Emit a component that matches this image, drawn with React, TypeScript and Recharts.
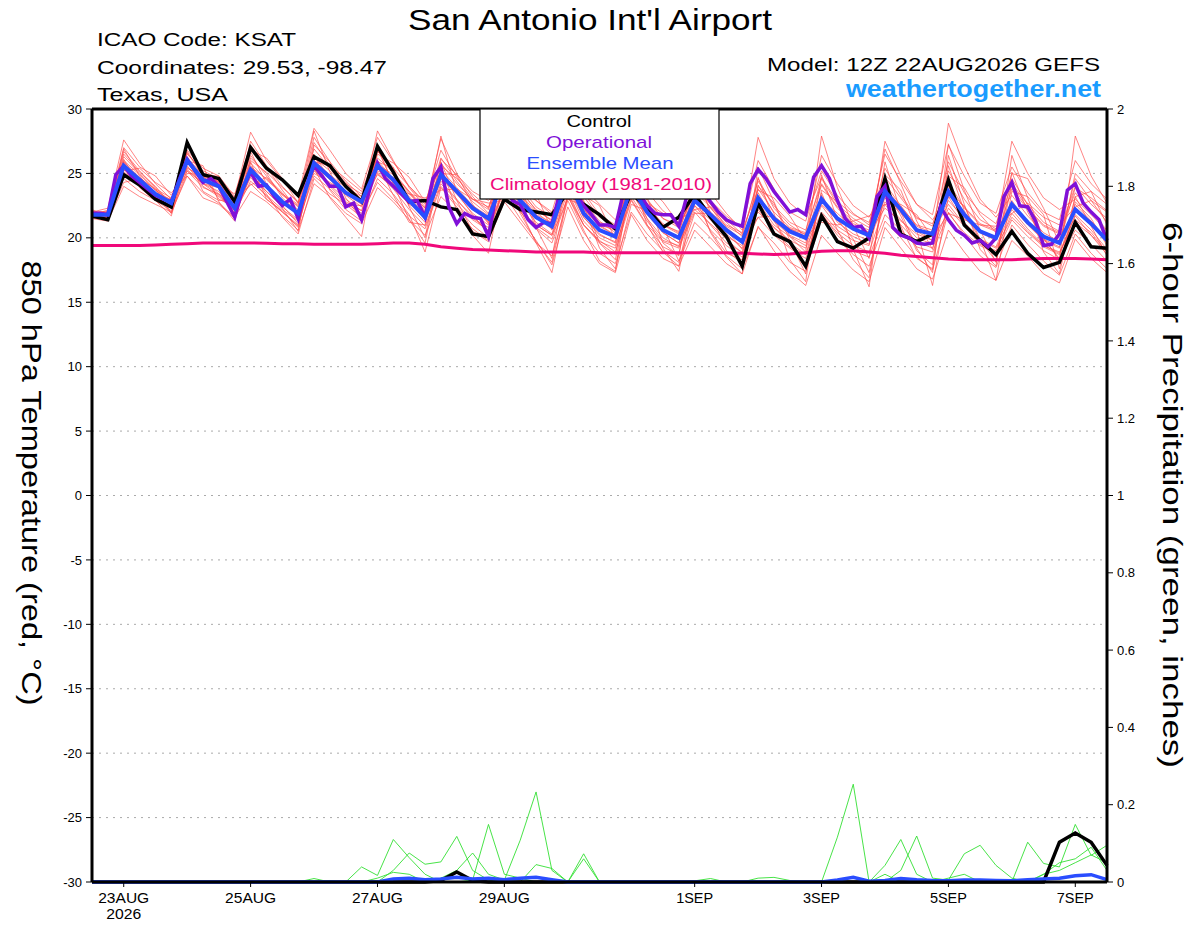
import React from "react";
import { LineChart, Line, XAxis, YAxis, CartesianGrid, ReferenceLine } from "recharts";

const FONT = "'Liberation Sans', Arial, Helvetica, sans-serif";

// 850 hPa temperature, every 6 h from 12Z 22AUG2026 (65 steps)
const ctrlTemp = [
  21.7, 21.4,
  24.9, 24.1, 23.0, 22.4, 27.4, 24.9, 24.6, 22.8, 27.0, 25.4, 24.5, 23.3, 26.3, 25.6, 24.0, 22.8,
  27.1, 25.1, 22.8, 22.9, 22.4, 22.2, 20.3, 20.1, 23.0, 22.2, 22.0, 21.8, 23.6, 22.6, 21.8, 20.7,
  23.5, 22.3, 20.8, 21.6, 23.4, 21.6, 20.1, 17.8, 22.7, 20.3, 19.7, 17.8, 21.7, 19.7, 19.2, 20.0,
  24.6, 20.3, 19.7, 20.3, 24.5, 21.0, 19.8, 18.7, 20.5, 18.8, 17.7, 18.1, 21.2, 19.3, 19.2,
];

const meanTemp = [
  21.8, 21.8,
  25.6, 24.5, 23.4, 22.7, 26.0, 24.5, 24.0, 22.3, 25.3, 24.0, 22.8, 21.9, 25.8, 24.7, 23.5, 22.8,
  25.6, 24.5, 22.9, 21.6, 24.9, 23.6, 22.3, 21.5, 24.8, 22.9, 21.6, 20.9, 24.6, 21.9, 20.6, 20.1,
  24.0, 22.0, 20.6, 20.0, 22.9, 21.8, 20.6, 19.7, 23.1, 21.5, 20.5, 20.0, 23.0, 21.5, 20.7, 20.2,
  23.6, 22.2, 20.6, 20.3, 23.6, 21.8, 20.5, 20.0, 22.6, 21.2, 20.1, 19.6, 22.2, 21.1, 19.8,
];

const climTemp = [
  19.4, 19.4,
  19.4, 19.4, 19.45, 19.5, 19.55, 19.6, 19.6, 19.6, 19.6, 19.58, 19.55, 19.55, 19.5, 19.5, 19.5, 19.5,
  19.55, 19.6, 19.6, 19.5, 19.3, 19.2, 19.1, 19.05, 19.0, 18.95, 18.9, 18.9, 18.9, 18.9, 18.85, 18.85,
  18.85, 18.85, 18.85, 18.85, 18.85, 18.85, 18.85, 18.8, 18.75, 18.7, 18.75, 18.85, 18.95, 19.0, 19.0, 18.9,
  18.8, 18.65, 18.55, 18.45, 18.35, 18.3, 18.3, 18.3, 18.3, 18.35, 18.4, 18.4, 18.4, 18.35, 18.3,
];

// operational run, every 3 h
const opTemp = [
  21.9, 21.9, 21.8, 24.9, 25.6, 24.8, 24.3, 23.8,
  23.3, 23.0, 22.8, 24.5, 26.1, 25.2, 24.3, 24.6,
  24.0, 22.8, 21.6, 23.8, 25.1, 24.0, 24.1, 23.2,
  22.5, 23.0, 21.5, 24.0, 25.6, 24.8, 24.0, 24.0,
  22.4, 22.7, 21.4, 23.7, 25.8, 24.6, 24.0, 23.4,
  22.8, 22.9, 21.6, 24.6, 25.5, 22.4, 21.1, 21.9,
  21.6, 21.5, 20.1, 23.5, 24.5, 22.9, 22.6, 21.4,
  20.8, 21.2, 21.1, 23.5, 24.5, 23.5, 22.5, 21.8,
  21.0, 21.0, 20.8, 23.5, 24.5, 23.5, 22.5, 21.9,
  21.8, 21.8, 20.9, 23.2, 24.6, 23.6, 22.8, 22.0,
  21.4, 21.1, 20.9, 24.2, 25.3, 24.6, 23.6, 22.8,
  22.0, 22.2, 21.8, 24.7, 25.6, 24.6, 22.9, 21.5,
  20.8, 20.9, 20.0, 23.2, 24.0, 20.8, 20.2, 20.0,
  19.6, 19.5, 19.6, 22.4, 21.4, 20.6, 20.2, 19.6,
  19.8, 19.3, 20.0, 23.2, 24.3, 22.5, 22.4, 21.3,
  19.4, 19.5, 20.3, 23.7, 24.2, 22.7, 22.0, 21.4,
  19.8,
];

// ensemble members (thin red)
const member01 = [
  22.0, 22.3,
  27.6, 25.8, 24.2, 23.0, 26.5, 25.2, 24.6, 23.1, 28.2, 26.0, 24.5, 23.2, 28.5, 26.8, 25.0, 23.8,
  27.8, 25.9, 24.0, 22.6, 26.8, 24.7, 23.0, 22.2, 27.0, 24.5, 22.9, 22.0, 26.2, 23.5, 21.8, 21.0,
  25.8, 23.6, 22.1, 21.2, 24.8, 22.9, 21.7, 20.8, 26.0, 23.8, 22.0, 21.3, 25.2, 23.3, 21.9, 21.0,
  26.5, 24.4, 22.6, 21.8, 27.2, 24.8, 22.7, 21.9, 25.5, 23.5, 22.0, 21.4, 26.0, 24.2, 23.0,
];
const member02 = [
  21.5, 21.3,
  24.0, 23.2, 22.6, 22.0, 24.8, 23.5, 22.7, 21.6, 23.6, 22.8, 21.7, 20.6, 24.2, 23.2, 21.9, 21.1,
  23.9, 22.8, 21.4, 20.2, 23.2, 22.0, 20.7, 19.8, 22.8, 21.2, 19.6, 18.6, 22.9, 20.4, 18.8, 18.0,
  22.0, 20.3, 19.0, 18.1, 21.2, 20.0, 18.6, 17.6, 20.8, 19.6, 18.1, 17.4, 21.5, 19.9, 18.7, 17.8,
  21.3, 20.0, 18.5, 17.5, 22.0, 20.2, 18.6, 17.7, 21.0, 19.5, 18.2, 17.1, 20.3, 18.8, 17.6,
];
const member03 = [
  22.1, 21.9,
  26.3, 25.0, 23.8, 23.1, 25.4, 24.8, 24.4, 22.9, 26.0, 25.1, 23.9, 22.8, 26.9, 25.4, 24.2, 23.4,
  26.2, 25.1, 23.6, 22.3, 25.8, 24.2, 23.0, 22.4, 25.6, 23.8, 22.1, 21.4, 25.4, 22.8, 21.3, 20.4,
  24.8, 22.6, 21.0, 20.5, 23.9, 22.6, 21.4, 20.3, 24.4, 22.5, 21.2, 20.6, 24.2, 22.4, 21.3, 20.4,
  23.4, 22.0, 20.5, 19.8, 25.2, 23.0, 21.4, 20.7, 24.1, 22.3, 21.0, 20.4, 23.5, 22.0, 20.6,
];
const member04 = [
  21.7, 21.6,
  25.0, 24.0, 23.0, 22.3, 26.8, 25.4, 24.8, 22.0, 24.7, 23.2, 22.0, 21.0, 25.2, 24.1, 23.0, 22.1,
  25.0, 23.8, 22.2, 20.9, 24.2, 22.9, 21.7, 20.4, 24.0, 22.4, 20.8, 19.9, 23.6, 21.0, 19.7, 19.2,
  23.2, 21.3, 19.8, 19.4, 22.2, 21.1, 19.9, 18.8, 22.4, 20.8, 19.8, 19.2, 22.0, 20.6, 19.8, 19.4,
  24.2, 22.5, 20.9, 20.4, 22.6, 21.0, 19.8, 19.2, 21.6, 20.4, 19.3, 18.7, 21.8, 20.6, 19.1,
];
const member05 = [
  21.9, 22.1,
  26.7, 25.2, 23.9, 22.5, 25.8, 25.0, 24.2, 23.4, 27.2, 25.5, 23.7, 22.1, 27.4, 25.6, 24.6, 23.6,
  26.8, 25.0, 23.5, 22.0, 26.2, 24.4, 22.8, 21.8, 26.3, 23.6, 22.2, 21.3, 25.9, 22.6, 21.0, 20.2,
  25.2, 22.9, 21.5, 20.8, 23.6, 22.4, 21.2, 20.1, 24.6, 22.3, 21.0, 20.2, 24.6, 22.6, 21.5, 20.8,
  25.4, 23.3, 21.6, 20.9, 25.9, 23.5, 22.0, 21.1, 24.6, 22.6, 21.2, 20.5, 24.0, 22.6, 21.5,
];
const member06 = [
  21.6, 21.5,
  25.3, 24.2, 23.2, 22.4, 26.3, 24.2, 23.6, 21.8, 25.0, 23.6, 22.4, 21.4, 26.4, 24.6, 23.3, 22.4,
  25.4, 24.3, 22.5, 21.2, 24.6, 23.4, 21.9, 21.0, 25.0, 22.8, 21.2, 20.3, 24.4, 21.6, 20.2, 19.7,
  24.5, 22.2, 20.4, 19.6, 23.0, 21.6, 20.3, 19.2, 23.5, 21.3, 20.2, 19.6, 23.3, 21.2, 20.3, 19.8,
  22.8, 21.4, 20.0, 19.5, 24.0, 21.8, 20.4, 19.8, 22.9, 21.1, 19.9, 19.3, 22.6, 21.3, 19.9,
];
const member07 = [
  21.8, 21.7,
  24.6, 23.6, 22.9, 22.1, 25.2, 23.9, 23.4, 21.9, 24.4, 23.3, 22.2, 21.3, 24.8, 23.8, 22.6, 21.6,
  24.6, 23.4, 21.8, 18.9, 23.9, 22.4, 21.0, 20.0, 23.4, 21.5, 19.8, 17.9, 22.4, 19.8, 18.0, 17.3,
  21.8, 19.8, 18.4, 17.8, 20.6, 19.3, 18.0, 17.2, 20.9, 19.0, 17.4, 16.3, 20.2, 18.8, 17.5, 16.6,
  20.8, 19.2, 17.6, 16.8, 20.6, 18.9, 17.4, 16.7, 19.8, 18.6, 17.2, 16.5, 19.9, 18.4, 17.3,
];
const member08 = [
  21.9, 22.0,
  26.0, 24.9, 23.7, 22.9, 25.9, 24.7, 23.9, 22.5, 26.4, 24.8, 23.3, 22.5, 27.8, 25.9, 24.4, 23.2,
  26.0, 24.6, 23.2, 21.8, 25.3, 23.9, 22.5, 21.7, 26.6, 24.0, 22.4, 21.6, 25.0, 22.3, 21.0, 20.6,
  24.6, 22.4, 21.1, 20.4, 24.3, 22.3, 21.0, 20.4, 27.8, 24.6, 22.7, 21.7, 24.7, 22.8, 21.8, 21.2,
  24.7, 23.1, 21.5, 21.1, 23.8, 22.4, 21.1, 20.6, 27.5, 25.0, 23.1, 22.2, 23.0, 21.8, 20.5,
];
const member09 = [
  21.6, 21.7,
  25.8, 24.4, 23.0, 22.3, 25.6, 24.0, 23.2, 22.1, 25.6, 24.1, 22.9, 21.8, 25.7, 24.5, 23.4, 22.6,
  28.3, 26.0, 23.9, 22.4, 27.7, 25.0, 23.2, 21.9, 24.4, 22.6, 21.5, 20.7, 24.0, 21.6, 20.3, 19.6,
  23.6, 21.5, 20.0, 19.3, 22.5, 21.4, 20.1, 19.4, 22.8, 21.0, 20.1, 19.4, 22.5, 20.9, 20.1, 19.5,
  27.5, 24.8, 22.6, 21.4, 23.2, 21.2, 19.9, 19.3, 22.2, 20.7, 19.4, 18.9, 21.2, 20.2, 18.9,
];
const member10 = [
  22.0, 21.9,
  25.1, 24.3, 23.4, 23.0, 26.6, 25.0, 24.3, 22.6, 25.8, 24.5, 23.4, 22.4, 25.0, 24.3, 23.6, 23.0,
  25.2, 24.7, 23.4, 22.3, 25.1, 23.7, 22.5, 21.2, 25.3, 23.4, 22.0, 21.0, 24.8, 22.2, 20.9, 20.2,
  23.5, 21.8, 20.4, 19.6, 22.5, 21.0, 19.6, 18.9, 23.0, 21.6, 20.7, 20.3, 22.6, 21.4, 20.7, 20.4,
  22.3, 21.3, 20.3, 19.8, 28.9, 25.6, 23.0, 21.6, 23.3, 21.7, 20.4, 19.7, 24.6, 22.9, 21.2,
];
const member11 = [
  21.7, 21.9,
  26.5, 25.1, 24.0, 22.6, 26.2, 24.9, 24.3, 21.7, 24.9, 23.6, 22.5, 21.1, 26.0, 24.9, 23.9, 23.2,
  25.7, 24.9, 23.6, 22.1, 24.7, 23.4, 22.2, 21.3, 24.7, 22.9, 21.7, 21.0, 24.9, 22.3, 21.2, 20.8,
  24.4, 22.3, 21.0, 20.3, 23.3, 22.0, 20.9, 20.2, 22.0, 20.8, 19.6, 18.7, 23.0, 21.9, 20.8, 20.1,
  23.1, 21.9, 20.7, 20.3, 22.9, 21.5, 20.4, 19.9, 23.8, 22.2, 20.9, 20.3, 21.4, 20.4, 18.9,
];
const member12 = [
  21.8, 22.0,
  25.9, 24.7, 23.7, 22.7, 25.2, 24.2, 23.9, 22.6, 25.5, 24.6, 23.4, 22.6, 25.3, 24.2, 23.5, 22.9,
  24.9, 24.0, 22.9, 21.4, 24.4, 23.0, 21.5, 20.8, 23.8, 22.0, 20.7, 19.6, 23.2, 21.0, 19.8, 18.9,
  22.9, 20.9, 19.3, 18.7, 24.5, 22.6, 20.8, 19.8, 21.6, 20.2, 19.2, 18.4, 21.9, 20.2, 19.0, 18.5,
  21.8, 20.6, 19.3, 18.9, 21.9, 20.4, 19.4, 18.8, 21.4, 20.1, 19.0, 18.3, 20.6, 19.5, 18.2,
];
const member13 = [
  21.9, 21.8,
  25.6, 24.6, 23.5, 22.8, 26.1, 24.7, 24.4, 22.2, 27.5, 25.6, 24.0, 22.7, 26.2, 25.2, 24.1, 23.0,
  25.9, 25.4, 24.0, 22.8, 25.6, 24.6, 23.4, 22.3, 25.2, 23.3, 21.8, 21.2, 25.6, 23.2, 21.6, 20.9,
  25.0, 23.0, 21.5, 21.0, 23.4, 21.9, 20.5, 19.6, 23.8, 22.0, 20.8, 20.4, 26.4, 24.2, 22.5, 21.6,
  23.9, 22.4, 21.0, 20.6, 24.3, 22.3, 21.0, 20.5, 22.4, 21.0, 19.8, 19.2, 25.0, 23.6, 22.6,
];
const member14 = [
  21.5, 21.6,
  25.4, 24.2, 23.1, 22.5, 25.5, 24.5, 23.4, 22.4, 24.2, 23.0, 22.1, 20.8, 25.6, 24.0, 22.7, 21.9,
  24.3, 23.0, 21.7, 20.7, 24.0, 22.6, 21.4, 20.6, 24.2, 22.1, 21.0, 20.2, 23.9, 21.3, 20.0, 19.4,
  23.0, 21.0, 19.7, 19.2, 22.0, 20.6, 19.4, 18.5, 22.2, 20.5, 19.3, 18.7, 21.8, 20.4, 19.4, 18.9,
  22.6, 21.0, 19.7, 19.2, 22.3, 20.9, 19.5, 19.0, 21.9, 20.5, 19.4, 18.8, 21.7, 20.2, 18.7,
];
const member15 = [
  22.2, 21.6,
  26.9, 24.8, 23.3, 21.9, 25.0, 24.9, 23.0, 22.4, 26.7, 24.2, 22.3, 20.5, 27.2, 25.9, 23.1, 21.4,
  27.0, 24.2, 22.6, 21.9, 27.9, 23.5, 21.8, 20.3, 23.9, 22.2, 19.6, 17.3, 23.3, 20.6, 18.2, 17.4,
  24.9, 21.0, 18.9, 17.8, 23.8, 20.4, 18.5, 17.2, 25.5, 22.8, 20.1, 18.9, 27.9, 23.9, 20.9, 18.4,
  25.9, 22.0, 19.2, 17.3, 26.4, 22.6, 19.1, 17.8, 26.4, 23.1, 20.0, 18.3, 27.9, 24.8, 22.7,
];
const member16 = [
  21.8, 21.5,
  24.3, 24.6, 23.8, 21.9, 26.2, 23.6, 22.9, 23.0, 24.1, 24.7, 23.5, 21.9, 25.4, 23.1, 21.6, 20.1,
  26.7, 25.5, 22.4, 20.0, 26.1, 24.9, 23.6, 22.9, 24.1, 23.9, 21.0, 20.2, 23.0, 22.5, 19.2, 17.6,
  22.6, 22.1, 20.9, 18.2, 21.9, 21.9, 19.0, 18.0, 24.0, 22.7, 19.8, 17.2, 23.7, 22.8, 19.1, 16.2,
  24.9, 23.7, 20.6, 16.3, 23.2, 22.5, 19.9, 16.7, 23.6, 23.2, 21.8, 17.6, 23.2, 23.6, 21.0,
];
const member17 = [
  21.9, 22.1,
  27.0, 25.5, 24.8, 23.3, 25.3, 24.2, 23.3, 22.1, 26.8, 26.2, 24.6, 22.7, 28.3, 25.1, 22.8, 22.1,
  26.5, 25.8, 24.7, 22.8, 25.0, 24.9, 22.6, 21.1, 26.1, 25.1, 23.4, 20.6, 24.4, 23.3, 22.5, 19.9,
  26.2, 24.0, 22.8, 21.1, 25.0, 23.5, 21.9, 20.6, 23.7, 23.1, 21.7, 19.8, 24.1, 22.3, 21.1, 20.6,
  26.9, 24.2, 21.3, 19.1, 24.8, 23.9, 21.8, 20.4, 25.0, 24.6, 22.3, 19.6, 23.9, 23.1, 22.1,
];
const member18 = [
  22.0, 21.9,
  26.1, 24.0, 23.0, 22.6, 26.7, 24.8, 24.8, 23.2, 25.1, 23.4, 21.6, 20.3, 24.6, 23.4, 22.6, 22.5,
  25.8, 23.3, 21.2, 21.0, 25.9, 22.9, 20.5, 19.7, 26.0, 23.5, 20.8, 18.4, 25.3, 22.9, 19.6, 18.3,
  23.8, 23.2, 19.6, 18.6, 25.6, 21.9, 20.1, 18.0, 24.1, 21.9, 18.3, 16.6, 24.9, 21.4, 19.9, 17.3,
  23.6, 20.9, 18.4, 17.6, 25.6, 22.1, 19.8, 18.2, 24.2, 22.6, 18.9, 17.2, 22.8, 21.5, 19.4,
];
const member19 = [
  21.6, 21.8,
  25.2, 25.4, 24.3, 23.5, 24.8, 23.1, 22.6, 21.5, 26.2, 25.0, 23.1, 22.0, 25.9, 25.6, 24.3, 22.9,
  25.1, 23.9, 23.4, 23.1, 23.7, 23.8, 23.0, 22.7, 22.9, 23.6, 22.9, 21.8, 24.0, 23.9, 22.6, 21.4,
  23.3, 22.7, 21.9, 21.4, 22.2, 22.4, 20.6, 19.1, 21.6, 21.7, 20.7, 20.1, 21.2, 21.0, 21.3, 21.7,
  22.6, 22.6, 21.8, 20.0, 21.9, 21.4, 21.0, 20.9, 21.9, 22.7, 21.6, 21.0, 22.4, 22.9, 22.0,
];
const member20 = [
  21.7, 21.6,
  25.9, 23.9, 22.9, 21.7, 26.0, 25.6, 22.8, 21.3, 25.9, 23.0, 22.0, 20.9, 26.5, 23.7, 22.2, 21.3,
  26.9, 24.2, 21.4, 19.6, 25.6, 22.1, 20.2, 18.8, 24.6, 21.9, 19.7, 18.1, 23.4, 21.0, 19.6, 18.7,
  24.2, 21.5, 19.2, 17.4, 23.2, 20.5, 18.8, 18.3, 24.7, 21.3, 19.5, 17.7, 23.5, 20.6, 18.3, 16.9,
  23.9, 21.7, 19.0, 17.9, 27.3, 23.7, 20.6, 18.1, 25.1, 22.0, 19.9, 18.4, 23.2, 20.9, 18.6,
];
const memberTemps = [
  member01, member02, member03, member04, member05, member06, member07,
  member08, member09, member10, member11, member12, member13, member14,
  member15, member16, member17, member18, member19, member20,
];

// 6-hour precipitation (inches)
const green01 = [
  0, 0, 0, 0, 0, 0, 0, 0, 0, 0,
  0, 0, 0, 0, 0.009, 0, 0, 0.039, 0.017, 0.11,
  0.063, 0.02, 0, 0, 0, 0, 0, 0, 0, 0,
  0, 0, 0, 0, 0, 0, 0, 0, 0, 0,
  0, 0, 0, 0, 0, 0, 0, 0.116, 0.253, 0,
  0, 0, 0, 0, 0, 0, 0, 0, 0, 0,
  0, 0, 0, 0, 0,
];
const green02 = [
  0, 0, 0, 0, 0, 0, 0, 0, 0, 0,
  0, 0, 0, 0, 0, 0, 0, 0, 0, 0.03,
  0.075, 0.046, 0.052, 0.118, 0.03, 0.005, 0, 0, 0, 0,
  0, 0, 0, 0, 0, 0, 0, 0, 0, 0,
  0, 0, 0, 0, 0, 0, 0, 0, 0, 0,
  0.043, 0.11, 0.02, 0, 0, 0, 0, 0, 0, 0,
  0, 0, 0, 0, 0,
];
const green03 = [
  0, 0, 0, 0, 0, 0, 0, 0, 0, 0,
  0, 0, 0, 0, 0, 0, 0, 0, 0, 0,
  0, 0, 0.01, 0.03, 0.075, 0.02, 0.005, 0.108, 0.233, 0.03,
  0, 0, 0, 0, 0, 0, 0, 0, 0, 0,
  0, 0, 0, 0, 0, 0, 0, 0, 0, 0,
  0, 0.03, 0.119, 0.01, 0.005, 0.073, 0.095, 0.043, 0.01, 0,
  0, 0, 0, 0, 0,
];
const green04 = [
  0, 0, 0, 0, 0, 0, 0, 0, 0, 0,
  0, 0, 0, 0, 0, 0, 0, 0, 0, 0,
  0, 0, 0, 0, 0.005, 0.149, 0.02, 0.01, 0, 0,
  0, 0.073, 0, 0, 0, 0, 0, 0, 0, 0,
  0, 0, 0, 0, 0, 0, 0, 0, 0, 0,
  0, 0, 0, 0, 0, 0, 0, 0, 0, 0.103,
  0.048, 0.039, 0.149, 0.069, 0.095,
];
const green05 = [
  0, 0, 0, 0, 0, 0, 0, 0, 0, 0,
  0, 0, 0, 0, 0, 0, 0, 0, 0.01, 0.025,
  0.02, 0, 0, 0, 0, 0, 0, 0, 0.045, 0.035,
  0, 0, 0, 0, 0, 0, 0, 0, 0.003, 0.009,
  0, 0, 0.01, 0.012, 0.004, 0, 0, 0, 0, 0,
  0, 0, 0, 0, 0, 0, 0, 0, 0, 0,
  0.02, 0.05, 0.06, 0.09, 0.03,
];
const green06 = [
  0, 0, 0, 0, 0, 0, 0, 0, 0, 0,
  0, 0, 0, 0, 0, 0.004, 0, 0, 0, 0,
  0, 0, 0, 0, 0, 0, 0, 0, 0, 0,
  0, 0.06, 0, 0, 0, 0, 0, 0, 0, 0,
  0, 0, 0, 0, 0, 0, 0, 0, 0, 0,
  0.02, 0, 0, 0, 0.01, 0.02, 0, 0, 0, 0,
  0.02, 0.03, 0.05, 0.07, 0.05,
];
const greenPrecip = [green01, green02, green03, green04, green05, green06];

const ctrlPrecip = [
  0, 0, 0, 0, 0, 0, 0, 0, 0, 0,
  0, 0, 0, 0, 0, 0, 0, 0, 0, 0,
  0, 0, 0.004, 0.026, 0.004, 0, 0, 0, 0, 0,
  0, 0, 0, 0, 0, 0, 0, 0, 0, 0,
  0, 0, 0, 0, 0, 0, 0, 0, 0, 0,
  0, 0, 0, 0, 0, 0, 0, 0, 0, 0,
  0, 0.103, 0.127, 0.103, 0.043,
];
const meanPrecip = [
  0, 0, 0, 0, 0, 0, 0, 0, 0, 0,
  0, 0, 0, 0, 0, 0, 0, 0, 0, 0.008,
  0.01, 0.006, 0.008, 0.012, 0.008, 0.01, 0.006, 0.01, 0.012, 0.006,
  0, 0, 0, 0, 0, 0, 0, 0, 0, 0,
  0, 0, 0, 0, 0, 0, 0, 0.005, 0.012, 0.002,
  0.004, 0.009, 0.006, 0.004, 0.003, 0.005, 0.005, 0.004, 0.003, 0.006,
  0.008, 0.01, 0.016, 0.019, 0.006,
];

// axes
const tickHours = [12, 60, 108, 156, 228, 276, 324, 372];
const tickLabels = ["23AUG", "25AUG", "27AUG", "29AUG", "1SEP", "3SEP", "5SEP", "7SEP"];
const tempTicks = [-30, -25, -20, -15, -10, -5, 0, 5, 10, 15, 20, 25, 30];
const precipTicks = [0, 0.2, 0.4, 0.6, 0.8, 1, 1.2, 1.4, 1.6, 1.8, 2];

const rows = ctrlTemp.map((t, i) => {
  const row: Record<string, number> = {
    hour: i * 6,
    ctrl: t,
    mean: meanTemp[i],
    clim: climTemp[i],
    ctrlP: ctrlPrecip[i],
    meanP: meanPrecip[i],
  };
  memberTemps.forEach((m, k) => (row[`m${k}`] = m[i]));
  greenPrecip.forEach((g, k) => (row[`g${k}`] = g[i]));
  return row;
});

const opRows = opTemp.map((t, j) => ({ hour: j * 3, op: t }));

const DateTick = (props: any) => {
  const { x, y, payload } = props;
  const idx = tickHours.indexOf(payload.value);
  const label = tickLabels[idx];
  const w = label.length === 5 ? 51 : 37;
  return (
    <g fontFamily={FONT} fontSize={14} fill="#000">
      <text x={x} y={y + 14} textAnchor="middle" textLength={w} lengthAdjust="spacingAndGlyphs">
        {label}
      </text>
      {idx === 0 && (
        <text x={x} y={y + 30} textAnchor="middle" textLength={35} lengthAdjust="spacingAndGlyphs">
          2026
        </text>
      )}
    </g>
  );
};

const App: React.FC = () => {
  const axisTick = { fontSize: 13, fill: "#000", fontFamily: FONT };
  return (
    <div style={{ position: "absolute", left: 0, top: 0, width: 1200, height: 927, background: "#fff" }}>
      <LineChart width={1200} height={927} data={rows} margin={{ top: 109, right: 0, bottom: 0, left: 0 }}>
        <CartesianGrid yAxisId="temp" vertical={false} stroke="#aaa" strokeDasharray="2 5" />
        <XAxis
          dataKey="hour"
          type="number"
          domain={[0, 384]}
          ticks={tickHours}
          interval={0}
          height={45}
          tick={<DateTick />}
          tickSize={5}
          tickMargin={2}
          axisLine={{ stroke: "#000", strokeWidth: 3 }}
          tickLine={{ stroke: "#000" }}
        />
        <YAxis
          yAxisId="temp"
          orientation="left"
          width={92}
          domain={[-30, 30]}
          ticks={tempTicks}
          interval={0}
          tick={axisTick}
          tickSize={6}
          tickMargin={4}
          axisLine={{ stroke: "#000", strokeWidth: 3 }}
          tickLine={{ stroke: "#000" }}
        />
        <YAxis
          yAxisId="precip"
          orientation="right"
          width={93}
          domain={[0, 2]}
          ticks={precipTicks}
          interval={0}
          tick={axisTick}
          tickSize={6}
          tickMargin={4}
          axisLine={{ stroke: "#000", strokeWidth: 3 }}
          tickLine={{ stroke: "#000" }}
        />
        <ReferenceLine yAxisId="temp" y={30} stroke="#000" strokeWidth={3} />

        {memberTemps.map((_, k) => (
          <Line
            key={`m${k}`}
            yAxisId="temp"
            dataKey={`m${k}`}
            stroke="#ff4a4a"
            strokeOpacity={0.85}
            strokeWidth={0.8}
            dot={false}
            isAnimationActive={false}
          />
        ))}
        {greenPrecip.map((_, k) => (
          <Line
            key={`g${k}`}
            yAxisId="precip"
            dataKey={`g${k}`}
            stroke="#33e033"
            strokeWidth={0.9}
            dot={false}
            isAnimationActive={false}
          />
        ))}
        <Line yAxisId="precip" dataKey="ctrlP" stroke="#000" strokeWidth={3.5} dot={false} isAnimationActive={false} />
        <Line yAxisId="precip" dataKey="meanP" stroke="#2a4dff" strokeWidth={3.5} dot={false} isAnimationActive={false} />
        <Line yAxisId="temp" dataKey="clim" stroke="#f0087a" strokeWidth={3} dot={false} isAnimationActive={false} />
        <Line yAxisId="temp" dataKey="ctrl" stroke="#000" strokeWidth={3.5} dot={false} isAnimationActive={false} />
        <Line
          yAxisId="temp"
          data={opRows}
          dataKey="op"
          stroke="#8010d8"
          strokeWidth={3.5}
          dot={false}
          isAnimationActive={false}
        />
        <Line yAxisId="temp" dataKey="mean" stroke="#2a4dff" strokeWidth={4} dot={false} isAnimationActive={false} />
      </LineChart>

      <svg
        width={1200}
        height={927}
        style={{ position: "absolute", left: 0, top: 0, pointerEvents: "none" }}
        fontFamily={FONT}
      >
        <text x={590} y={30} textAnchor="middle" fontSize={29} textLength={364} lengthAdjust="spacingAndGlyphs">
          San Antonio Int'l Airport
        </text>
        <text x={97} y={46} fontSize={18} textLength={199} lengthAdjust="spacingAndGlyphs">
          ICAO Code: KSAT
        </text>
        <text x={97} y={74} fontSize={18} textLength={290} lengthAdjust="spacingAndGlyphs">
          Coordinates: 29.53, -98.47
        </text>
        <text x={97} y={101} fontSize={18} textLength={131} lengthAdjust="spacingAndGlyphs">
          Texas, USA
        </text>
        <text x={1100} y={71} textAnchor="end" fontSize={18} textLength={333} lengthAdjust="spacingAndGlyphs">
          Model: 12Z 22AUG2026 GEFS
        </text>
        <text
          x={1101}
          y={97}
          textAnchor="end"
          fontSize={23}
          fontWeight="bold"
          fill="#1a9cff"
          textLength={255}
          lengthAdjust="spacingAndGlyphs"
        >
          weathertogether.net
        </text>

        <g transform="translate(22,483) rotate(90)">
          <text textAnchor="middle" fontSize={28} textLength={445} lengthAdjust="spacingAndGlyphs">
            850 hPa Temperature (red, °C)
          </text>
        </g>
        <g transform="translate(1163,495) rotate(90)">
          <text textAnchor="middle" fontSize={28} textLength={546} lengthAdjust="spacingAndGlyphs">
            6-hour Precipitation (green, inches)
          </text>
        </g>

        <rect x={480} y={109} width={239} height={90} fill="#fff" stroke="#000" strokeWidth={1.2} />
        <g textAnchor="middle" fontSize={17}>
          <text x={599} y={127} fill="#000" textLength={65} lengthAdjust="spacingAndGlyphs">
            Control
          </text>
          <text x={599} y={148} fill="#8010d8" textLength={106} lengthAdjust="spacingAndGlyphs">
            Operational
          </text>
          <text x={600} y={169} fill="#2a4dff" textLength={147} lengthAdjust="spacingAndGlyphs">
            Ensemble Mean
          </text>
          <text x={601} y={190} fill="#f0087a" textLength={222} lengthAdjust="spacingAndGlyphs">
            Climatology (1981-2010)
          </text>
        </g>
      </svg>
    </div>
  );
};

export default App;
